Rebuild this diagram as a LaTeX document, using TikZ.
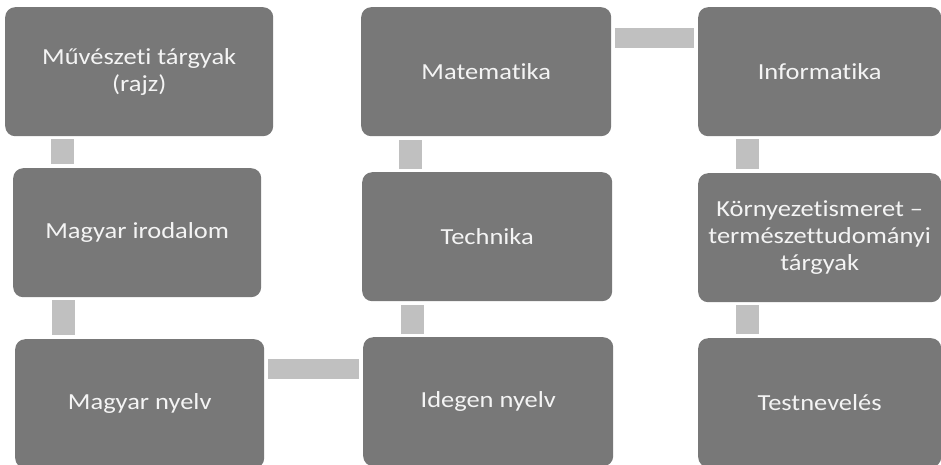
\documentclass[tikz,border=0pt]{standalone}
\usepackage{fontspec}
\setmainfont[FakeStretch=1.15,Ligatures={NoCommon}]{Carlito}
\definecolor{boxgray}{HTML}{787878}
\definecolor{conngray}{HTML}{C0C0C0}
\definecolor{txtwhite}{HTML}{F4F4F4}
\tikzset{
  subj/.style={fill=boxgray, rounded corners=10pt, minimum width=250pt, minimum height=129pt,
    text=txtwhite, align=center, font=\fontsize{23}{27}\selectfont, inner sep=0pt, anchor=north west},
  vconn/.style={draw=conngray, line width=23pt, shorten <=3pt, shorten >=4pt},
  hconn/.style={draw=conngray, line width=20pt, shorten <=4pt, shorten >=4pt}
}
\begin{document}
\begin{tikzpicture}[x=1pt,y=-1pt]
\useasboundingbox (0,0) rectangle (941,464);
\clip (0,0) rectangle (941,464);
\node[subj, minimum width=268pt] (art) at (5,7) {Művészeti tárgyak\\(rajz)};
\node[subj, minimum width=248pt] (lit) at (13,168) {Magyar irodalom};
\node[subj, minimum width=249pt] (lang) at (15,339) {Magyar nyelv};
\node[subj] (math) at (361,7) {Matematika};
\node[subj] (tech) at (362,172) {Technika};
\node[subj] (foreign) at (363,337) {Idegen nyelv};
\node[subj, minimum width=243pt] (info) at (698,7) {Informatika};
\node[subj, minimum width=243pt] (env) at (698,173) {Környezetismeret –\\természettudományi\\tárgyak};
\node[subj, minimum width=243pt] (pe) at (698,338) {Testnevelés};
\draw[vconn] ([xshift=57.5pt]art.south west) -- ([xshift=57.5pt]art.south west |- lit.north);
\draw[vconn] ([xshift=50pt]lit.south west) -- ([xshift=50pt]lit.south west |- lang.north);
\draw[hconn] ([yshift=-30pt]lang.north east) -- ([yshift=-30pt]lang.north east -| foreign.west);
\draw[vconn] ([xshift=49.5pt]foreign.north west) -- ([xshift=49.5pt]foreign.north west |- tech.south);
\draw[vconn] ([xshift=48.5pt]tech.north west) -- ([xshift=48.5pt]tech.north west |- math.south);
\draw[hconn] ([yshift=-31pt]math.north east) -- ([yshift=-31pt]math.north east -| info.west);
\draw[vconn] ([xshift=49.5pt]info.south west) -- ([xshift=49.5pt]info.south west |- env.north);
\draw[vconn] ([xshift=49.5pt]env.south west) -- ([xshift=49.5pt]env.south west |- pe.north);
\end{tikzpicture}
\end{document}
